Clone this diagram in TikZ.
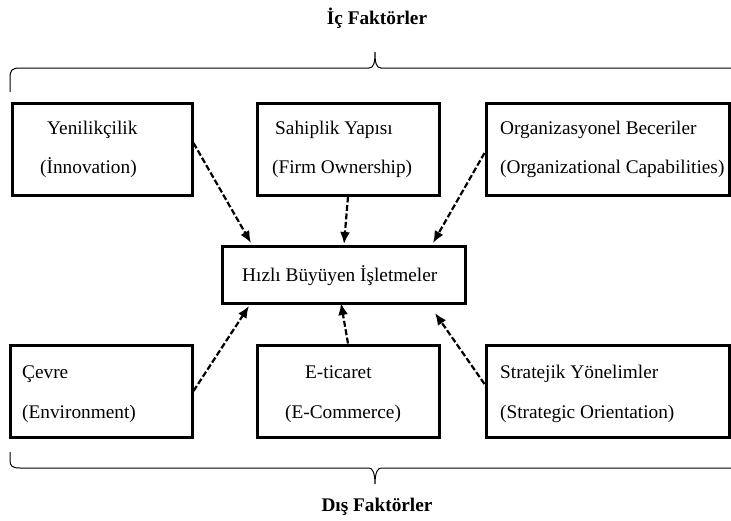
\documentclass[tikz,border=0pt]{standalone}
\usepackage{fontspec}
\setmainfont{Liberation Serif}
\usetikzlibrary{arrows.meta}
\begin{document}
\begin{tikzpicture}[x=1pt,y=-1pt,
  box/.style={draw,line width=3pt,rectangle,inner sep=0pt},
  lbl/.style={anchor=base west,inner sep=0pt,font=\fontsize{19.3}{23}\selectfont},
  ttl/.style={anchor=base,inner sep=0pt,font=\fontsize{19.3}{23}\selectfont\bfseries},
  conn/.style={line width=2.2pt,dash pattern=on 6pt off 2.5pt,-{Latex[length=12pt,width=10pt]}},
  brace/.style={line width=1pt}]
\useasboundingbox (0,0) rectangle (731,520);
% boxes
\node[box,minimum width=180pt,minimum height=92pt] (b1) at (102,149) {};
\node[box,minimum width=182pt,minimum height=92pt] (b2) at (348,149) {};
\node[box,minimum width=243pt,minimum height=92pt] (b3) at (607.5,149) {};
\node[box,minimum width=243pt,minimum height=57pt] (c) at (344,275) {};
\node[box,minimum width=182pt,minimum height=92pt] (b4) at (101,391) {};
\node[box,minimum width=182pt,minimum height=92pt] (b5) at (348,391) {};
\node[box,minimum width=243pt,minimum height=92pt] (b6) at (607.5,391) {};
% texts
\node[lbl] (t1a) at (47,134) {Yenilikçilik};
\node[lbl] (t1b) at (40,173) {(İnnovation)};
\node[lbl] (t2a) at (275,134) {Sahiplik Yapısı};
\node[lbl] (t2b) at (272,173) {(Firm Ownership)};
\node[lbl] (t3a) at (500,134) {Organizasyonel Beceriler};
\node[lbl] (t3b) at (500,173) {(Organizational Capabilities)};
\node[lbl] (tc) at (242,281) {Hızlı Büyüyen İşletmeler};
\node[lbl] (t4a) at (22,378) {Çevre};
\node[lbl] (t4b) at (22,418) {(Environment)};
\node[lbl] (t5a) at (305,378) {E-ticaret};
\node[lbl] (t5b) at (285,418) {(E-Commerce)};
\node[lbl] (t6a) at (500,378) {Stratejik Yönelimler};
\node[lbl] (t6b) at (500,418) {(Strategic Orientation)};
% titles
\node[ttl] (ic) at (377,24) {İç Faktörler};
\node[ttl] (dis) at (377,511) {Dış Faktörler};
% braces
\draw[brace] (10,92) -- (10,78) .. controls (10,70) and (12,68) .. (20,68) -- (369,68)
  .. controls (374,68) and (375,62) .. (375,52) .. controls (375,62) and (376,68) .. (381,68) -- (731,68);
\draw[brace] (10,452) -- (10,460) .. controls (10,466) and (12,468) .. (20,468) -- (369,468)
  .. controls (372,468) and (375,472) .. (375,484) .. controls (375,472) and (378,468) .. (381,468) -- (731,468);
% connectors
\coordinate (e1) at (251,243);
\coordinate (e2) at (344,244);
\coordinate (e3) at (433,243);
\coordinate (e4) at (249,306);
\coordinate (e5) at (341,303);
\coordinate (e6) at (435,313);
\draw[conn] ([yshift=6pt]b1.east) -- (e1);
\draw[conn] (b2.south) -- (e2);
\draw[conn] ([yshift=-4pt]b3.west) -- (e3);
\draw[conn] (b4.east) -- (e4);
\draw[conn] (b5.north) -- (e5);
\draw[conn] ([yshift=7pt]b6.west) -- (e6);
\end{tikzpicture}
\end{document}
